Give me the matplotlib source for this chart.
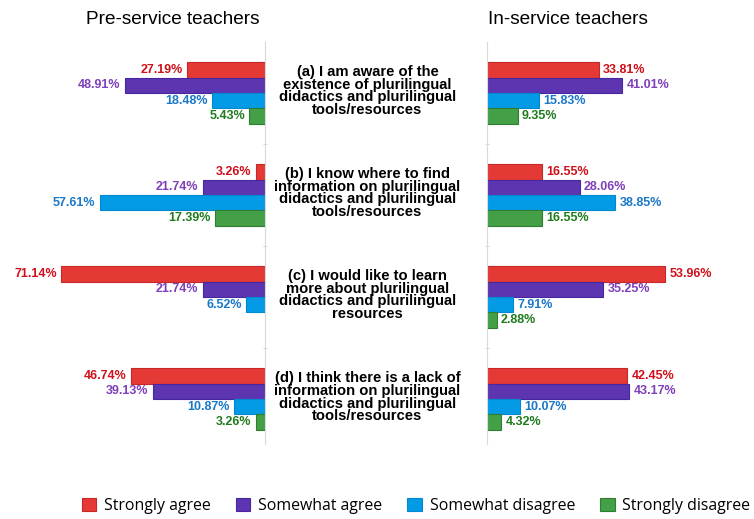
import matplotlib
matplotlib.use("Agg")
import matplotlib.pyplot as plt
import matplotlib.transforms as mtransforms
from matplotlib.patches import Patch

# data
questions = [
    "(a) I am aware of the\nexistence of plurilingual\ndidactics and plurilingual\ntools/resources",
    "(b) I know where to find\ninformation on plurilingual\ndidactics and plurilingual\ntools/resources",
    "(c) I would like to learn\nmore about plurilingual\ndidactics and plurilingual\nresources",
    "(d) I think there is a lack of\ninformation on plurilingual\ndidactics and plurilingual\ntools/resources",
]
answers = ["Strongly agree", "Somewhat agree", "Somewhat disagree", "Strongly disagree"]
pre_service = {
    "Strongly agree":    [27.19, 3.26, 71.14, 46.74],
    "Somewhat agree":    [48.91, 21.74, 21.74, 39.13],
    "Somewhat disagree": [18.48, 57.61, 6.52, 10.87],
    "Strongly disagree": [5.43, 17.39, 0.0, 3.26],
}
in_service = {
    "Strongly agree":    [33.81, 16.55, 53.96, 42.45],
    "Somewhat agree":    [41.01, 28.06, 35.25, 43.17],
    "Somewhat disagree": [15.83, 38.85, 7.91, 10.07],
    "Strongly disagree": [9.35, 16.55, 2.88, 4.32],
}

bar_colors = ["#e53935", "#5e35b1", "#039be5", "#43a047"]
edge_colors = ["#c62828", "#4527a0", "#0288d1", "#2e7d32"]
text_colors = ["#d0101a", "#7e3fb8", "#1a78c8", "#1e7b1e"]
spine_color = "#d9d9d9"

W, H = 754, 519
fig = plt.figure(figsize=(W / 100, H / 100), dpi=100)

bottom = 1 - 444 / H
height = 402 / H
axL = fig.add_axes([0, bottom, 265 / W, height])
axR = fig.add_axes([487 / W, bottom, 267 / W, height])

bh = 0.15
offsets = [-1.5 * bh, -0.5 * bh, 0.5 * bh, 1.5 * bh]
groups = list(range(len(questions)))

for i, ans in enumerate(answers):
    ys = [g + offsets[i] for g in groups]
    # pre-service: bars grow to the left
    vals = pre_service[ans]
    lw = [0.8 if v > 0 else 0 for v in vals]
    bars = axL.barh(ys, [-v for v in vals], height=bh, color=bar_colors[i],
                    edgecolor=edge_colors[i], linewidth=lw)
    axL.bar_label(bars, labels=[f"{v:.2f}%" if v > 0 else "" for v in vals],
                  padding=3, color=text_colors[i], fontsize=9, fontweight="bold",
                  family="Liberation Sans")
    # in-service: bars grow to the right
    vals = in_service[ans]
    lw = [0.8 if v > 0 else 0 for v in vals]
    bars = axR.barh(ys, vals, height=bh, color=bar_colors[i],
                    edgecolor=edge_colors[i], linewidth=lw)
    axR.bar_label(bars, labels=[f"{v:.2f}%" if v > 0 else "" for v in vals],
                  padding=3, color=text_colors[i], fontsize=9, fontweight="bold",
                  family="Liberation Sans")

axL.set_xlim(-265 / 2.87, 0)
axR.set_xlim(0, 267 / 3.3)
for ax in (axL, axR):
    ax.set_ylim(3.44, -0.5)
    ax.set_xticks([])
    ax.set_yticks([0.5, 1.5, 2.5])
    ax.set_yticklabels([])
    ax.tick_params(axis="y", length=3, color=spine_color, direction="inout")
    for s in ax.spines.values():
        s.set_visible(False)
    ax.patch.set_alpha(0)

axL.yaxis.tick_right()
axL.spines["right"].set_visible(True)
axL.spines["right"].set_color(spine_color)
axR.spines["left"].set_visible(True)
axR.spines["left"].set_color(spine_color)

# question labels in the middle column
trans = mtransforms.blended_transform_factory(fig.transFigure, axL.transData)
for g, q in zip(groups, questions):
    fig.text(367.5 / W, g - 0.02, q, transform=trans, ha="center", va="center",
             fontsize=10.6, fontweight="bold", family="Liberation Sans",
             linespacing=0.9)

fig.text(172.5 / W, 1 - 19 / H, "Pre-service teachers", ha="center", va="center",
         fontsize=13.7, family="Liberation Sans")
fig.text(568 / W, 1 - 19 / H, "In-service teachers", ha="center", va="center",
         fontsize=13.7, family="Liberation Sans")

handles = [Patch(facecolor=c, edgecolor=e, linewidth=0.8) for c, e in zip(bar_colors, edge_colors)]
fig.legend(handles, answers, loc="center", bbox_to_anchor=(416 / W, 1 - 506 / H),
           ncol=4, frameon=False, prop={"family": "Open Sans", "size": 11.4},
           handlelength=0.9, handleheight=0.85, handletextpad=0.5,
           columnspacing=1.6, borderpad=0, borderaxespad=0)

fig.savefig("out.png", dpi=100)
